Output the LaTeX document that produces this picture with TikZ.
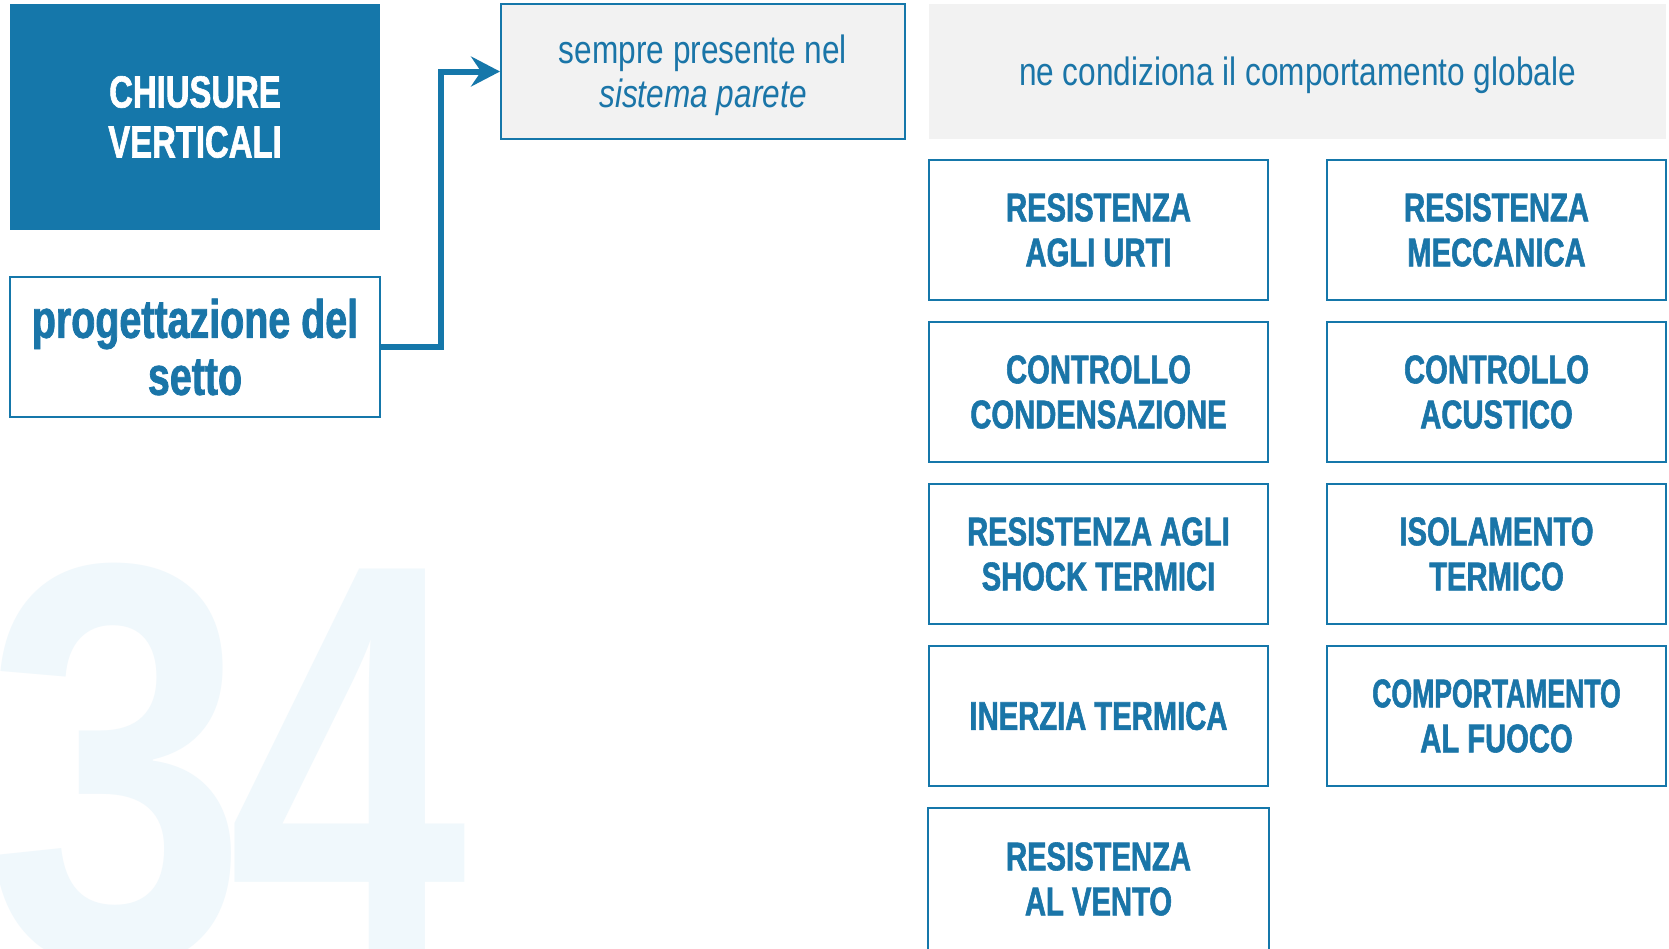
\documentclass[tikz,border=0pt]{standalone}
\usepackage{fontspec}
\usepackage{graphicx}
\usetikzlibrary{arrows.meta}
\setmainfont{Liberation Sans}
\newfontfamily\cnb{Liberation Sans}[FakeStretch=0.73, FakeBold=1.4]
\newfontfamily\cnr{Liberation Sans}[FakeStretch=0.80]
\newfontfamily\bigthree{Liberation Sans}[FakeStretch=0.83]
\newfontfamily\bigfour{Liberation Sans}[FakeStretch=0.75]
\definecolor{mainblue}{HTML}{1577AA}
\definecolor{textblue}{HTML}{1A75A8}
\definecolor{panelgray}{HTML}{F2F2F2}
\definecolor{ghost}{HTML}{F0F8FC}
\tikzset{
  gridbox/.style={draw=mainblue, line width=2pt, inner sep=0pt,
    minimum width=339pt, minimum height=140pt, align=center, text=textblue,
    font=\cnb\bfseries\fontsize{40}{45}\selectfont},
  titlebox/.style={fill=mainblue, inner sep=0pt, minimum width=370pt,
    minimum height=226pt, align=center, text=white,
    font=\cnb\bfseries\fontsize{45}{50}\selectfont},
  topicbox/.style={draw=mainblue, line width=2pt, fill=white, inner sep=0pt,
    minimum width=370pt, minimum height=140pt, align=center, text=textblue,
    font=\cnb\bfseries\fontsize{54}{57}\selectfont},
  notebox/.style={fill=panelgray, inner sep=0pt, minimum height=135pt},
  notetext/.style={inner sep=0pt, align=center, text=textblue,
    font=\cnr\fontsize{39.5}{44}\selectfont},
  bignum/.style={anchor=base west, inner sep=0pt, text=ghost},
  conn/.style={draw=mainblue, line width=6pt,
    -{Stealth[length=29pt, width=30pt, inset=10pt]}},
  edge/.style={draw=mainblue, line width=2pt}
}
\begin{document}
\begin{tikzpicture}[x=1pt, y=-1pt]
\useasboundingbox (0,0) rectangle (1669,948);
\clip (0,0) rectangle (1669,948);
\fill[white] (0,0) rectangle (1669,948);
% big background number
\node[bignum, font=\bigthree\bfseries\fontsize{572}{572}\selectfont] (three) at (-16,962) {3};
\node[bignum, font=\bigfour\bfseries\fontsize{572}{572}\selectfont] (four) at (228,962) {4};
% left column
\node[titlebox] (title) at (195,117) {CHIUSURE\\VERTICALI};
\node[topicbox] (prog) at (195,347) {progettazione del\\setto};
% top notes
\node[notebox, draw=mainblue, line width=2pt, minimum width=404pt] (sempre) at (703,71.5) {};
\node[notetext] (sempretxt) at ([yshift=-4pt]sempre.center)
  {sempre presente nel\\\itshape sistema parete};
\node[notebox, minimum width=737pt] (globale) at (1297.5,71.5) {};
\node[notetext] (globaletxt) at ([yshift=-4pt]globale.center)
  {ne condiziona il comportamento globale};
% grid
\node[gridbox] (urti) at (1098.5,230) {RESISTENZA\\AGLI URTI};
\node[gridbox] (mecc) at (1496.5,230) {RESISTENZA\\MECCANICA};
\node[gridbox] (cond) at (1098.5,392) {CONTROLLO\\CONDENSAZIONE};
\node[gridbox] (acus) at (1496.5,392) {CONTROLLO\\ACUSTICO};
\node[gridbox] (shock) at (1098.5,554) {RESISTENZA AGLI\\SHOCK TERMICI};
\node[gridbox] (isol) at (1496.5,554) {ISOLAMENTO\\TERMICO};
\node[gridbox] (inerz) at (1098.5,716) {INERZIA TERMICA};
\node[gridbox] (fuoco) at (1496.5,716) {\scalebox{0.91}[1]{COMPORTAMENTO}\\AL FUOCO};
\node[gridbox, draw=none] (vento) at (1098.5,879) {RESISTENZA\\AL VENTO};
\draw[edge] ([yshift=-30pt]vento.south west) -- (vento.north west)
  -- (vento.north east) -- ([yshift=-30pt]vento.south east);
% connector
\draw[conn] (prog.east) -- ++(60,0) |- (sempre.west);
\end{tikzpicture}
\end{document}
